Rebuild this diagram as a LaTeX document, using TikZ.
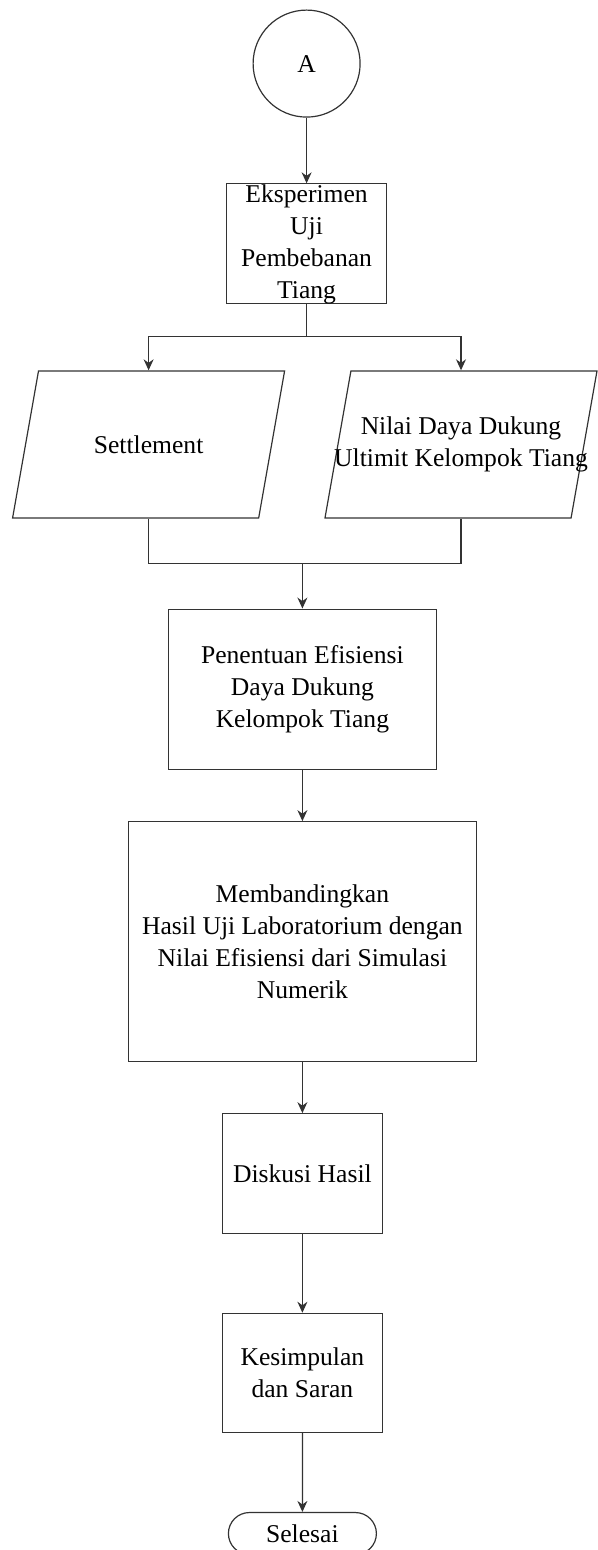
\documentclass[tikz,border=0pt]{standalone}
\usepackage{fontspec}
\setmainfont{Liberation Serif}
\usetikzlibrary{arrows.meta,positioning,shapes.geometric,shapes.misc}
\definecolor{flowLine}{HTML}{333333}

\begin{document}
\begin{tikzpicture}[
  node distance=26pt,
  every node/.style={font=\fontsize{12.8}{16}\selectfont},
  box/.style={rectangle,draw=flowLine,line width=0.6pt,align=center,inner sep=0pt},
  para/.style={trapezium,trapezium left angle=80,trapezium right angle=100,trapezium stretches body,draw=flowLine,line width=0.6pt,minimum width=136pt,inner xsep=0pt,inner ysep=36.75pt},
  conn/.style={circle,draw=flowLine,line width=0.6pt,minimum size=53.5pt,inner sep=0pt},
  term/.style={rounded rectangle,draw=flowLine,line width=0.6pt,minimum width=74pt,minimum height=21pt,inner sep=0pt},
  arrow/.style={-{Stealth[length=5.5pt,width=5pt]},line width=0.6pt,color=flowLine}
]
\useasboundingbox (0,0) rectangle (299pt,-775pt);
\node[conn] (a) at (153.3pt,-31.8pt) {A};
\node[box,below=32.8pt of a,minimum width=80pt,minimum height=60pt] (eks) {Eksperimen\\Uji\\Pembebanan\\Tiang};
\coordinate[below=76.8pt of eks.north] (split);
\node[para,below=16.7pt of split,xshift=-79pt] (setl) {};
\node[para,below=16.7pt of split,xshift=77.2pt] (nilai) {};
\node (setlText) at (setl) {Settlement};
\node[align=center] (nilaiText) at (nilai) {Nilai Daya Dukung\\Ultimit Kelompok Tiang};
\coordinate[below=22.4pt of setl.south] (join);
\node[box,below=22.6pt of join,xshift=76.9pt,minimum width=133.8pt,minimum height=80pt] (pen) {Penentuan Efisiensi\\Daya Dukung\\Kelompok Tiang};
\node[box,below=25.7pt of pen,minimum width=174.2pt,minimum height=119.7pt] (memb) {Membandingkan\\Hasil Uji Laboratorium dengan\\Nilai Efisiensi dari Simulasi\\Numerik};
\node[box,below=25.7pt of memb,minimum width=80pt,minimum height=60pt] (disk) {Diskusi Hasil};
\node[box,below=39.2pt of disk,minimum width=80pt,minimum height=59.5pt] (kes) {Kesimpulan\\dan Saran};
\node[term,below=39.5pt of kes] (sel) {Selesai};
\draw[arrow] (a) -- (eks);
\draw[line width=0.6pt,color=flowLine] (eks.south) -- (split);
\draw[arrow] (split) -| (setl.north);
\draw[arrow] (split) -| (nilai.north);
\draw[line width=0.6pt,color=flowLine] (setl.south) -- (join) -| (nilai.south);
\draw[arrow] (pen.north |- join) -- (pen);
\draw[arrow] (pen) -- (memb);
\draw[arrow] (memb) -- (disk);
\draw[arrow] (disk) -- (kes);
\draw[arrow] (kes) -- (sel);
\end{tikzpicture}
\end{document}
